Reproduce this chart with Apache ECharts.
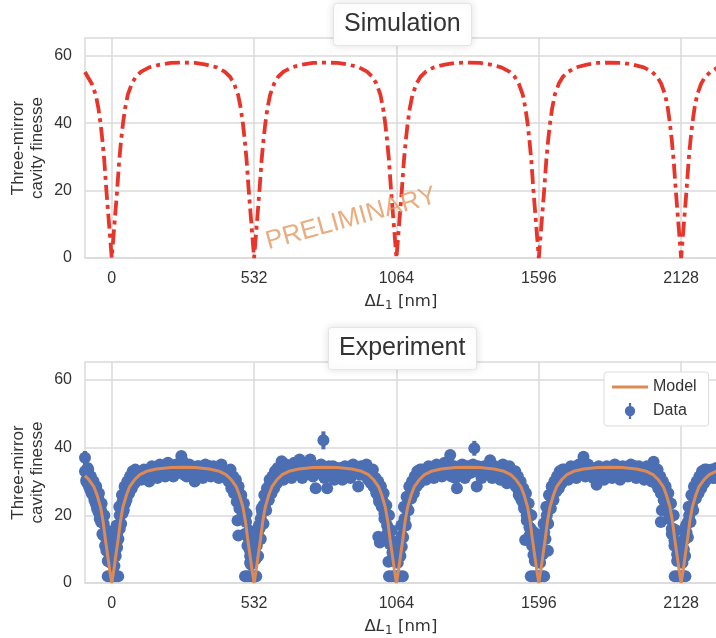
<!DOCTYPE html>
<html>
<head>
<meta charset="utf-8">
<script src="https://cdn.jsdelivr.net/npm/echarts@6/dist/echarts.min.js"></script>
<style>
  html, body { margin: 0; padding: 0; background: #fff; }
  #chart { width: 716px; height: 638px; }
</style>
</head>
<body>
<div id="chart"></div>
<script>
// tick positions (nm)
const xTicks = [0, 532, 1064, 1596, 2128];
const yTicks = [0, 20, 40, 60];

// simulated three-mirror finesse
const simX = [-100, -90, -75, -60, -50, -42, -35, -28, -20, -16, -12, -8, -4,
  0, 4, 8, 12, 16, 20, 28, 35, 42, 50, 60, 75, 90, 110, 140, 180, 220, 266, 312, 352, 392, 422, 442, 457, 472, 482, 490, 497, 504, 512, 516, 520, 524, 528,
  532, 536, 540, 544, 548, 552, 560, 567, 574, 582, 592, 607, 622, 642, 672, 712, 752, 798, 844, 884, 924, 954, 974, 989, 1004, 1014, 1022, 1029, 1036, 1044, 1048, 1052, 1056, 1060,
  1064, 1068, 1072, 1076, 1080, 1084, 1092, 1099, 1106, 1114, 1124, 1139, 1154, 1174, 1204, 1244, 1284, 1330, 1376, 1416, 1456, 1486, 1506, 1521, 1536, 1546, 1554, 1561, 1568, 1576, 1580, 1584, 1588, 1592,
  1596, 1600, 1604, 1608, 1612, 1616, 1624, 1631, 1638, 1646, 1656, 1671, 1686, 1706, 1736, 1776, 1816, 1862, 1908, 1948, 1988, 2018, 2038, 2053, 2068, 2078, 2086, 2093, 2100, 2108, 2112, 2116, 2120, 2124,
  2128, 2132, 2136, 2140, 2144, 2148, 2156, 2163, 2170, 2178, 2188, 2203, 2218, 2238, 2262];
const simY = [55.2, 53.8, 51.8, 48.5, 44.5, 40, 35, 29, 20, 16, 12, 8, 4,
  0, 4, 8, 12, 16, 20, 29, 35, 40, 44.5, 48.5, 51.8, 53.8, 55.3, 56.6, 57.4, 57.9, 58, 57.9, 57.4, 56.6, 55.3, 53.8, 51.8, 48.5, 44.5, 40, 35, 29, 20, 16, 12, 8, 4,
  0, 4, 8, 12, 16, 20, 29, 35, 40, 44.5, 48.5, 51.8, 53.8, 55.3, 56.6, 57.4, 57.9, 58, 57.9, 57.4, 56.6, 55.3, 53.8, 51.8, 48.5, 44.5, 40, 35, 29, 20, 16, 12, 8, 4,
  0, 4, 8, 12, 16, 20, 29, 35, 40, 44.5, 48.5, 51.8, 53.8, 55.3, 56.6, 57.4, 57.9, 58, 57.9, 57.4, 56.6, 55.3, 53.8, 51.8, 48.5, 44.5, 40, 35, 29, 20, 16, 12, 8, 4,
  0, 4, 8, 12, 16, 20, 29, 35, 40, 44.5, 48.5, 51.8, 53.8, 55.3, 56.6, 57.4, 57.9, 58, 57.9, 57.4, 56.6, 55.3, 53.8, 51.8, 48.5, 44.5, 40, 35, 29, 20, 16, 12, 8, 4,
  0, 4, 8, 12, 16, 20, 29, 35, 40, 44.5, 48.5, 51.8, 53.8, 55.3, 56.4];

// fitted model
const modelX = [-100, -85, -67, -55, -42, -32, -24, -15, -8, -4,
  0, 4, 8, 15, 24, 32, 42, 55, 67, 85, 105, 130, 167, 220, 266, 312, 365, 402, 427, 447, 465, 477, 490, 500, 508, 517, 524, 528,
  532, 536, 540, 547, 556, 564, 574, 587, 599, 617, 637, 662, 699, 752, 798, 844, 897, 934, 959, 979, 997, 1009, 1022, 1032, 1040, 1049, 1056, 1060,
  1064, 1068, 1072, 1079, 1088, 1096, 1106, 1119, 1131, 1149, 1169, 1194, 1231, 1284, 1330, 1376, 1429, 1466, 1491, 1511, 1529, 1541, 1554, 1564, 1572, 1581, 1588, 1592,
  1596, 1600, 1604, 1611, 1620, 1628, 1638, 1651, 1663, 1681, 1701, 1726, 1763, 1816, 1862, 1908, 1961, 1998, 2023, 2043, 2061, 2073, 2086, 2096, 2104, 2113, 2120, 2124,
  2128, 2132, 2136, 2143, 2152, 2160, 2170, 2183, 2195, 2213, 2233, 2262];
const modelY = [31.7, 30.5, 28.5, 26, 22.5, 18, 13, 8, 4, 2,
  0, 2, 4, 8, 13, 18, 22.5, 26, 28.5, 30.5, 32, 33, 33.7, 34.1, 34.2, 34.1, 33.7, 33, 32, 30.5, 28.5, 26, 22.5, 18, 13, 8, 4, 2,
  0, 2, 4, 8, 13, 18, 22.5, 26, 28.5, 30.5, 32, 33, 33.7, 34.1, 34.2, 34.1, 33.7, 33, 32, 30.5, 28.5, 26, 22.5, 18, 13, 8, 4, 2,
  0, 2, 4, 8, 13, 18, 22.5, 26, 28.5, 30.5, 32, 33, 33.7, 34.1, 34.2, 34.1, 33.7, 33, 32, 30.5, 28.5, 26, 22.5, 18, 13, 8, 4, 2,
  0, 2, 4, 8, 13, 18, 22.5, 26, 28.5, 30.5, 32, 33, 33.7, 34.1, 34.2, 34.1, 33.7, 33, 32, 30.5, 28.5, 26, 22.5, 18, 13, 8, 4, 2,
  0, 2, 4, 8, 13, 18, 22.5, 26, 28.5, 30.5, 32, 33.1];

// measured finesse
const dataX = [
  -100, -100, -95, -90, -90, -85, -80, -80, -75, -70, -70, -65, -60, -60, -55, -50, -50, -45, -40, -40, -35, -30, -30, -25, -20, -20, -15, -10, -10,
  -15, -8, 0, 8, 16, 24, -5, 3, 10, 12,
  10, 15, 20, 20, 25, 30, 30, 35, 40, 40, 45, 50, 50, 55, 60, 60, 65, 70, 70, 75, 80, 80, 85, 90, 95, 100,
  110, 120, 130, 140, 150, 160, 170, 180, 190, 200, 210, 220, 230, 240, 250, 260, 265, 270, 280, 290, 300, 310, 320, 330, 340, 350, 360, 370, 380, 390, 400, 410, 420,
  432, 437, 442, 447, 452, 457, 462, 467, 470, 473, 472, 477, 482, 487, 492, 497, 502, 507, 512, 515, 517, 520, 522,
  498, 506, 514, 522, 530, 540,
  537, 542, 547, 552, 557, 562, 567, 572, 577, 582, 587, 592, 597, 602, 607, 612, 617, 622, 627, 632, 635,
  642, 652, 662, 672, 682, 692, 702, 712, 722, 732, 742, 752, 762, 772, 782, 791, 795, 805, 812, 822, 832, 842, 852, 862, 872, 882, 892, 902, 912, 921, 932, 942, 952, 958,
  964, 969, 974, 979, 984, 989, 994, 999, 1004, 1009, 1014, 1019, 1024, 996, 1002, 1029, 1034, 1039, 1044, 1049, 1054, 1034,
  1036, 1046, 1056, 1066, 1076, 1088,
  1069, 1074, 1079, 1084, 1084, 1089, 1094, 1099, 1104, 1109, 1114, 1119, 1124, 1129, 1134, 1139, 1144, 1149, 1154, 1159, 1164,
  1174, 1184, 1194, 1204, 1214, 1224, 1234, 1244, 1254, 1265, 1270, 1280, 1290, 1300, 1310, 1320, 1330, 1340, 1350, 1355, 1364, 1372, 1382, 1392, 1402, 1414, 1422, 1432, 1442, 1452, 1462, 1472, 1477, 1486,
  1496, 1501, 1506, 1511, 1516, 1521, 1526, 1531, 1536, 1541, 1546, 1551, 1556, 1561, 1566, 1571, 1576, 1581, 1586, 1545, 1576,
  1566, 1576, 1586, 1596, 1606, 1616,
  1601, 1606, 1611, 1616, 1621, 1626, 1630, 1631, 1636, 1641, 1646, 1651, 1656, 1661, 1666, 1671, 1676, 1681, 1686, 1691, 1696,
  1706, 1716, 1726, 1736, 1746, 1756, 1763, 1770, 1780, 1790, 1800, 1812, 1820, 1830, 1840, 1850, 1860, 1870, 1880, 1890, 1900, 1910, 1920, 1930, 1940, 1950, 1960, 1970, 1980, 1990, 2000, 2010, 2018, 2025,
  2028, 2033, 2038, 2043, 2048, 2053, 2058, 2063, 2068, 2073, 2078, 2083, 2088, 2093, 2098, 2103, 2108, 2113, 2118, 2052, 2056,
  2104, 2114, 2124, 2134, 2144,
  2133, 2138, 2143, 2148, 2153, 2158, 2163, 2168, 2173, 2178, 2183, 2188, 2193, 2198, 2203, 2208, 2213, 2218, 2223, 2228, 2238, 2248, 2258
];
const dataY = [
  37, 33, 30.5, 34, 29.5, 32, 31.5, 27.5, 29.5, 30, 26, 28, 27.5, 23.5, 25.5, 25, 21, 22.5, 21.5, 18, 19, 17.5, 14, 15, 13, 9.5, 10, 7, 12,
  2, 2, 2, 2, 2, 2, 6, 8, 5, 9,
  9, 12, 14.5, 10.5, 17, 20, 16, 22, 24, 20.5, 25, 26.5, 23.5, 27.5, 28.5, 26, 29.5, 30.5, 28, 30, 31.5, 29.5, 32.5, 31, 33, 32,
  30.5, 33.5, 32, 30, 34.5, 32.5, 31, 35, 33, 31.5, 35.5, 33, 31.5, 35, 33.5, 37.5, 36, 32, 31.5, 35, 33, 30, 34.5, 32.5, 31, 35, 33, 31.5, 34.5, 32.5, 31, 35, 32.5,
  33, 30.5, 32.5, 29, 31, 28, 30, 26.5, 18.5, 14, 27.5, 24.5, 25.5, 22, 21.5, 18.5, 18, 14.5, 13, 10, 8, 5.5, 9,
  2, 2, 2, 2, 2, 2,
  7, 11, 14, 16, 19, 21, 23, 23, 26, 26, 28.5, 27.5, 30, 29, 31.5, 30.5, 32.5, 31, 33.5, 32, 36,
  30.5, 35, 33, 31, 35.5, 32.5, 36.5, 31, 34.5, 33, 36.5, 31.5, 28, 33, 35, 42.2, 31, 28, 34.5, 32.5, 30.5, 34, 32, 30.5, 34.5, 32.5, 31, 35, 33, 28.5, 34.5, 32, 35, 30.5,
  33.5, 29.5, 32, 28.5, 30.5, 27, 29, 25, 26.5, 23, 24, 20.5, 20, 13.7, 12, 17, 16, 13, 12, 9, 7, 6.3,
  2, 2, 2, 2, 2, 2,
  6, 9, 13, 14, 10.7, 17.5, 19, 22, 22, 25, 25, 27.5, 27, 29.5, 28.5, 31, 30, 32.5, 31, 33.5, 32,
  30.5, 34.5, 32.5, 31, 35, 33, 31.5, 35.5, 33, 37.8, 31.5, 34.5, 28, 33, 35, 31, 34.5, 32.5, 35, 39.8, 28.5, 33, 31, 34.5, 32.5, 36.3, 31, 34.5, 32.5, 30.5, 35, 33, 29.5, 34.5,
  32.5, 30, 32.5, 28.5, 30, 27, 28.5, 25, 26.5, 23, 24, 20, 20.5, 16.5, 16, 13, 12.5, 9, 7, 12.7, 8.3,
  2, 2, 2, 2, 2, 2,
  6, 10, 13, 15, 18, 20, 9.5, 22.5, 22.5, 25.5, 25.5, 28, 27.5, 30, 29, 31.5, 30.5, 32.5, 31, 33.5, 32,
  30.5, 34.5, 32.5, 31, 35, 33, 37.3, 31.5, 35, 33, 31, 29, 34.5, 32.5, 30.5, 34.5, 33, 31, 35, 32.5, 30.5, 34.5, 33, 31.5, 35, 32.5, 31, 34.5, 32.5, 30.5, 34.5, 32, 30, 35.8,
  32.5, 29.5, 31.5, 28, 30, 26.5, 28.5, 24.5, 26, 22, 23.5, 19, 20, 16, 16, 12.5, 12, 8.5, 7, 18, 21.5,
  2, 2, 2, 2, 2,
  6, 10, 13, 15, 18, 20, 22.5, 23, 26, 25.5, 28, 27.5, 30, 29, 31.5, 30.5, 32.5, 31, 33.5, 32, 33, 31, 33.5
];

// more measured points, read in between the ones above (plateau middles and resonance flanks)
const bandX = [
  115, 125, 135, 145, 155, 165, 175, 185, 195, 205, 215, 225, 235, 245, 255, 265, 275, 285, 295, 305, 315, 325, 335, 345, 355, 365, 375, 385, 395, 405, 415, 425,
  647, 657, 667, 677, 687, 697, 707, 717, 727, 737, 747, 757, 767, 777, 787, 797, 807, 817, 827, 837, 847, 857, 867, 877, 887, 897, 907, 917, 927, 937, 947, 957,
  1179, 1189, 1199, 1209, 1219, 1229, 1239, 1249, 1259, 1269, 1279, 1285, 1295, 1305, 1315, 1325, 1335, 1345, 1359, 1369, 1377, 1387, 1397, 1407, 1419, 1427, 1437, 1447, 1457, 1467, 1482, 1491,
  1711, 1721, 1731, 1741, 1751, 1761, 1775, 1785, 1795, 1805, 1815, 1825, 1835, 1845, 1855, 1865, 1875, 1885, 1895, 1905, 1915, 1925, 1935, 1945, 1955, 1965, 1975, 1985, 1995, 2005, 2015, 2022,
  -95, -88, -85, -78, -75, -68, -65, -58, -55, -48, -45, -38, -35, -28, -25, -18, -15, -12,
  12, 15, 18, 25, 28, 35, 38, 45, 48, 55, 58, 65, 68, 75, 78, 85, 88, 95,
  437, 444, 447, 454, 457, 464, 467, 474, 477, 484, 487, 494, 497, 504, 507, 514, 517, 520,
  544, 547, 550, 557, 560, 567, 570, 577, 580, 587, 590, 597, 600, 607, 610, 617, 620, 627,
  969, 976, 979, 986, 989, 996, 999, 1006, 1009, 1016, 1019, 1026, 1029, 1036, 1039, 1046, 1049, 1052,
  1076, 1079, 1082, 1089, 1092, 1099, 1102, 1109, 1112, 1119, 1122, 1129, 1132, 1139, 1142, 1149, 1152, 1159,
  1501, 1508, 1511, 1518, 1521, 1528, 1531, 1538, 1541, 1548, 1551, 1558, 1561, 1568, 1571, 1578, 1581, 1584,
  1608, 1611, 1614, 1621, 1624, 1631, 1634, 1641, 1644, 1651, 1654, 1661, 1664, 1671, 1674, 1681, 1684, 1691,
  2033, 2040, 2043, 2050, 2053, 2060, 2063, 2070, 2073, 2080, 2083, 2090, 2093, 2100, 2103, 2110, 2113, 2116,
  2140, 2143, 2146, 2153, 2156, 2163, 2166, 2173, 2176, 2183, 2186, 2193, 2196, 2203, 2206, 2213, 2216, 2223, 2233, 2243, 2253, 2260
];
const bandY = [
  32, 32.5, 33.5, 32.5, 33, 34, 32.5, 33.5, 34.5, 33, 32.5, 34, 33.5, 32.5, 34.5, 36, 33.5, 33, 32.5, 34, 33, 34.5, 33.5, 32.5, 33.5, 34.5, 33, 32, 33.5, 34, 33, 31.5,
  32.5, 33, 34, 33, 34, 34.5, 33, 35, 33.5, 34, 33, 34.5, 32.5, 33.5, 32, 34, 33, 33.5, 34.5, 33, 32.5, 34, 33.5, 32.5, 34, 33, 32.5, 34, 32, 33.5, 33, 33,
  32.5, 33, 34, 33, 34.5, 33.5, 32.5, 34, 35.5, 33, 32.5, 31, 34, 32.5, 33.5, 32.5, 33.5, 34, 33, 34.5, 33.5, 32.5, 34, 33, 34.5, 33, 32.5, 34, 33, 32.5, 32.5, 31,
  32.5, 33, 34, 33, 34.5, 35, 33.5, 32.5, 34, 33, 32, 33.5, 34, 32.5, 33.5, 34, 33, 32.5, 34, 33, 32.5, 34, 33, 33.5, 34.5, 33, 32.5, 34, 33, 32.5, 34.5, 33,
  30, 33.5, 28.5, 31.5, 26.5, 30, 24.5, 28.5, 22, 26.5, 19, 23.5, 14.5, 20, 11, 15.5, 6.5, 12,
  13, 8, 17, 13, 22.5, 17.5, 26, 21.5, 28.5, 24.5, 30, 26.5, 31.5, 28, 33, 29.5, 33.5, 30.5,
  30, 33.5, 28, 31.5, 26.5, 30.5, 24, 28.5, 22, 26, 19.5, 23.5, 14.5, 20.5, 11, 15.5, 6, 12,
  13.5, 8, 17, 13, 22, 17.5, 26, 21.5, 28, 24.5, 30.5, 26.5, 31.5, 28, 33, 29.5, 34, 30.5,
  30.5, 33.5, 28.5, 31, 26.5, 30, 24, 28.5, 22.5, 26.5, 19, 23, 14.5, 20, 11.5, 15.5, 6.5, 12,
  12.5, 8, 17, 13.5, 22.5, 17, 25.5, 21.5, 28.5, 25, 30, 26.5, 31.5, 28.5, 33, 29.5, 33.5, 31,
  30, 33, 28.5, 31.5, 26, 30, 24.5, 28, 22, 26.5, 18.5, 23.5, 14, 20, 11, 15, 6.5, 12.5,
  13, 8.5, 17.5, 13, 22.5, 17.5, 26, 22, 28.5, 24.5, 30, 27, 31.5, 28, 33, 29.5, 33.5, 30.5,
  30, 33.5, 28, 31.5, 26.5, 30, 24.5, 28.5, 22, 26.5, 19, 23.5, 14.5, 20, 11, 15.5, 6.5, 12,
  13, 8, 17, 13.5, 22.5, 18, 26, 21.5, 28.5, 25, 30, 26.5, 31.5, 28, 33, 29.5, 33.5, 30.5, 32.5, 33.5, 32, 34
];

// points whose error bars stand out of the band
const errX = [-100, 260, 791, 1355, 1265, 1763];
const errLow = [35, 36, 39.5, 37.6, 36.6, 36.2];
const errHigh = [39, 39, 44.8, 42, 39, 38.4];

const blue = '#4c6fb3';
const orange = '#dd8a55';
const red = '#e8352b';
const gridColor = '#dadada';
const font = 'Liberation Sans';

const chart = echarts.init(document.getElementById('chart'));

const zip = (xs, ys) => xs.map((x, i) => [x, ys[i]]);

function xAxisFor(idx) {
  return {
    gridIndex: idx,
    type: 'value',
    min: -100,
    max: 2262,
    name: '{r|Δ}{i|L}{s|1}{r| [nm]}',
    nameLocation: 'middle',
    nameGap: 34,
    nameTextStyle: {
      rich: {
        r: {fontSize: 16.5, color: '#333', fontFamily: 'DejaVu Sans', lineHeight: 20},
        i: {fontSize: 16.5, color: '#333', fontFamily: 'DejaVu Sans', fontStyle: 'italic', lineHeight: 20},
        s: {fontSize: 12, color: '#333', fontFamily: 'DejaVu Sans', lineHeight: 20, verticalAlign: 'bottom', padding: [6, 0, 0, 0]}
      }
    },
    axisLine: {show: false},
    axisTick: {show: false, customValues: xTicks},
    axisLabel: {customValues: xTicks, fontSize: 16, color: '#333', margin: 13, fontFamily: font, formatter: (v) => String(v)},
    splitLine: {show: true, lineStyle: {color: gridColor, width: 1.5}}
  };
}

function yAxisFor(idx) {
  return {
    gridIndex: idx,
    type: 'value',
    min: 0,
    max: 65.3,
    name: 'Three-mirror\ncavity finesse',
    nameLocation: 'middle',
    nameGap: 38,
    nameMoveOverlap: false,
    nameTextStyle: {fontSize: 17, color: '#333', lineHeight: 19, fontFamily: font},
    axisLine: {show: false},
    axisTick: {show: false, customValues: yTicks},
    axisLabel: {customValues: yTicks, fontSize: 16, color: '#333', margin: 13, fontFamily: font},
    splitLine: {show: true, lineStyle: {color: gridColor, width: 1.5}}
  };
}

const titleBox = {
  backgroundColor: '#fff',
  borderColor: '#e4e4e4',
  borderWidth: 1,
  borderRadius: 3,
  padding: [9, 11],
  shadowBlur: 8,
  shadowColor: 'rgba(0,0,0,0.12)',
  textStyle: {fontSize: 25, fontWeight: 'normal', color: '#333', fontFamily: font}
};

chart.setOption({
  animation: false,
  backgroundColor: '#fff',
  title: [
    Object.assign({text: 'Simulation', left: 333, top: 3}, titleBox),
    Object.assign({text: 'Experiment', left: 328, top: 327}, titleBox)
  ],
  grid: [
    {left: 85, top: 38, right: -1, height: 220, show: true, borderColor: gridColor, borderWidth: 1.5, outerBoundsMode: 'none'},
    {left: 85, top: 362, right: -1, height: 221, show: true, borderColor: gridColor, borderWidth: 1.5, outerBoundsMode: 'none'}
  ],
  xAxis: [xAxisFor(0), xAxisFor(1)],
  yAxis: [yAxisFor(0), yAxisFor(1)],
  legend: {
    orient: 'vertical',
    left: 604,
    top: 372,
    padding: [7, 12, 7, 8],
    itemGap: 8,
    itemWidth: 36,
    itemHeight: 16,
    backgroundColor: '#fff',
    borderColor: '#dcdcdc',
    borderWidth: 1,
    borderRadius: 3,
    textStyle: {fontSize: 16, color: '#333', fontFamily: font},
    data: [
      {name: 'Model', icon: 'path://M0,0h36v3h-36z'},
      {name: 'Data', icon: 'path://M4,0h2v14h-2zM5,2.5a4.5,4.5 0 1 1 0,9a4.5,4.5 0 1 1 0,-9z'}
    ]
  },
  graphic: [{
    type: 'text',
    x: 351,
    y: 219,
    rotation: 0.27,
    z: 100,
    style: {
      text: 'PRELIMINARY',
      fontSize: 26,
      fontFamily: font,
      fill: 'rgba(228,152,96,0.8)',
      align: 'center',
      verticalAlign: 'middle'
    }
  }],
  series: [
    {
      name: 'Simulation',
      type: 'line',
      xAxisIndex: 0,
      yAxisIndex: 0,
      data: zip(simX, simY),
      symbol: 'none',
      lineStyle: {color: red, width: 3.8, type: [15, 5, 4, 5]}
    },
    {
      name: 'Data',
      type: 'scatter',
      xAxisIndex: 1,
      yAxisIndex: 1,
      data: zip(dataX, dataY).concat(zip(bandX, bandY)),
      symbolSize: 12,
      itemStyle: {color: blue, opacity: 1}
    },
    {
      name: 'Data',
      type: 'custom',
      xAxisIndex: 1,
      yAxisIndex: 1,
      data: errX.map((x, i) => [x, errLow[i], errHigh[i]]),
      renderItem: (params, api) => {
        const lo = api.coord([api.value(0), api.value(1)]);
        const hi = api.coord([api.value(0), api.value(2)]);
        return {
          type: 'line',
          shape: {x1: lo[0], y1: lo[1], x2: hi[0], y2: hi[1]},
          style: {stroke: blue, lineWidth: 4}
        };
      }
    },
    {
      name: 'Model',
      type: 'line',
      xAxisIndex: 1,
      yAxisIndex: 1,
      data: zip(modelX, modelY),
      symbol: 'none',
      z: 5,
      lineStyle: {color: orange, width: 3},
      itemStyle: {color: orange}
    }
  ]
});
</script>
</body>
</html>
